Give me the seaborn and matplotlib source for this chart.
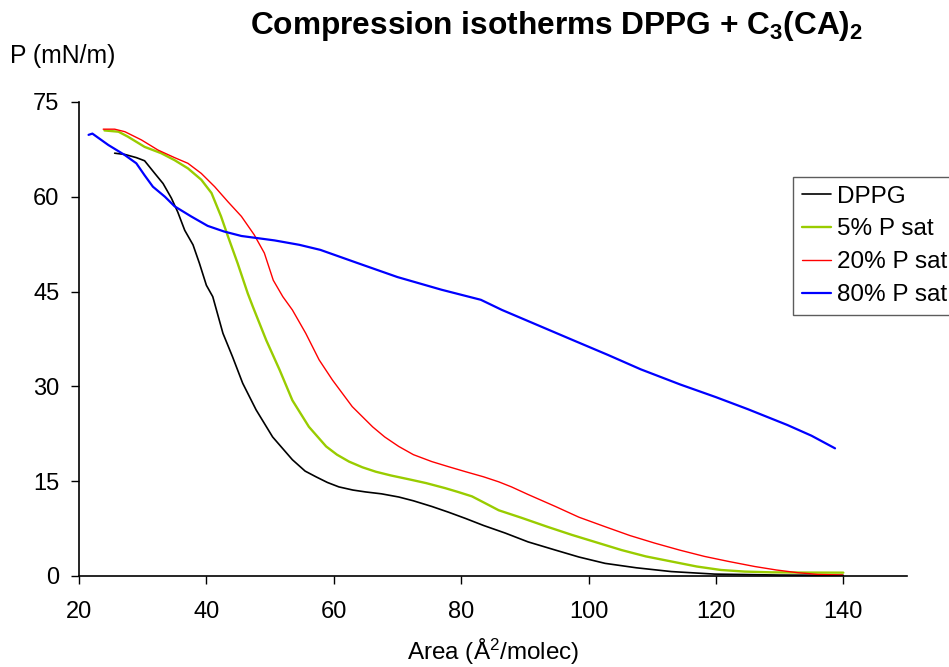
import matplotlib
matplotlib.use("Agg")
import matplotlib.pyplot as plt
import seaborn as sns
import pandas as pd

sns.set_theme(style="white")
plt.rcParams["font.family"] = ["Liberation Sans", "DejaVu Sans"]
plt.rcParams["mathtext.default"] = "regular"
plt.rcParams["text.color"] = "black"

# Surface pressure (mN/m) versus area per molecule (Å²/molec)
dppg_area = [25.6, 27.2, 29.0, 30.3, 31.9, 33.2, 34.5, 35.5, 36.6, 37.9, 38.9, 40.0,
             41.0, 42.6, 44.1, 45.7, 47.8, 50.4, 53.5, 55.5, 57.2, 59.0, 60.8, 63.0,
             65.0, 67.5, 70.2, 72.5, 75.4, 78.0, 80.7, 83.5, 86.9, 90.5, 94.8, 98.5,
             102.6, 107.5, 113.0, 119.8, 130.0, 140.0]
dppg_p = [66.9, 66.7, 66.2, 65.7, 63.7, 62.1, 59.8, 57.6, 54.7, 52.4, 49.5, 46.0,
          44.2, 38.4, 34.7, 30.5, 26.3, 22.0, 18.4, 16.6, 15.7, 14.8, 14.1, 13.6,
          13.3, 13.0, 12.5, 11.9, 11.0, 10.1, 9.1, 8.0, 6.8, 5.4, 4.1, 3.0,
          2.0, 1.3, 0.7, 0.3, 0.15, 0.1]

p5_area = [24.0, 26.2, 27.7, 30.3, 32.9, 35.0, 37.1, 39.2, 40.8, 42.3, 43.4, 44.9,
           46.5, 47.3, 49.4, 51.5, 53.5, 56.1, 58.8, 60.5, 62.4, 64.5, 66.6, 69.0,
           71.8, 74.5, 77.5, 79.5, 81.7, 84.0, 85.9, 89.5, 93.5, 97.4, 101.3, 105.2,
           109.0, 113.0, 117.0, 120.8, 124.5, 128.7, 134.0, 140.0]
p5_p = [70.5, 70.3, 69.5, 67.9, 66.9, 65.8, 64.5, 62.7, 60.6, 56.9, 53.7, 49.5,
        44.7, 42.6, 37.3, 32.6, 27.8, 23.6, 20.5, 19.2, 18.1, 17.2, 16.5, 15.9,
        15.3, 14.7, 13.9, 13.3, 12.6, 11.4, 10.4, 9.2, 7.8, 6.5, 5.3, 4.1,
        3.1, 2.3, 1.5, 0.95, 0.7, 0.58, 0.54, 0.53]

p20_area = [23.8, 25.6, 27.2, 29.8, 32.4, 35.0, 37.1, 39.2, 41.3, 43.4, 45.5, 47.5,
            49.1, 50.5, 52.0, 53.5, 55.6, 57.7, 59.8, 62.9, 66.1, 68.0, 70.2, 72.5,
            75.4, 78.0, 80.7, 83.5, 85.9, 87.9, 90.5, 94.8, 98.5, 102.6, 106.5,
            110.4, 114.3, 118.2, 122.0, 126.1, 129.5, 132.8, 136.0, 139.9]
p20_p = [70.7, 70.7, 70.3, 69.0, 67.4, 66.2, 65.3, 63.7, 61.6, 59.2, 56.9, 54.0,
         51.1, 46.8, 44.2, 42.1, 38.4, 34.2, 31.0, 26.8, 23.6, 22.0, 20.5, 19.2,
         18.1, 17.3, 16.5, 15.7, 14.9, 14.1, 12.9, 11.0, 9.3, 7.8, 6.4,
         5.2, 4.1, 3.1, 2.3, 1.5, 0.95, 0.53, 0.25, 0.16]

p80_area = [21.5, 22.1, 24.6, 27.2, 29.0, 30.3, 31.6, 33.5, 35.0, 37.6, 40.2, 42.8,
            45.5, 50.7, 54.6, 57.9, 63.5, 70.0, 76.9, 83.1, 86.4, 92.0, 97.6, 103.0,
            108.2, 114.4, 120.0, 125.0, 131.2, 135.0, 138.7]
p80_p = [69.8, 70.0, 68.2, 66.6, 65.3, 63.4, 61.6, 60.0, 58.5, 56.9, 55.4, 54.5,
         53.8, 53.1, 52.4, 51.6, 49.6, 47.3, 45.3, 43.7, 42.1, 39.7, 37.3, 35.0,
         32.7, 30.3, 28.3, 26.4, 23.9, 22.2, 20.2]

series_names = ["DPPG", "5% P sat", "20% P sat", "80% P sat"]
series_colors = ["#000000", "#99CC00", "#FF0000", "#0000FF"]
series_widths = [1.2, 1.7, 1.0, 1.6]

x_ticks = [20, 40, 60, 80, 100, 120, 140]
y_ticks = [0, 15, 30, 45, 60, 75]

frames = []
for name, xs, ys in zip(series_names,
                        [dppg_area, p5_area, p20_area, p80_area],
                        [dppg_p, p5_p, p20_p, p80_p]):
    frames.append(pd.DataFrame({"area": xs, "pressure": ys, "sample": name}))
df = pd.concat(frames, ignore_index=True)

fig = plt.figure(figsize=(9.49, 6.67), dpi=100)
ax = fig.add_axes([79 / 949, 1 - 576 / 667, (907 - 79) / 949, (576 - 102) / 667])

for name, color, lw in zip(series_names, series_colors, series_widths):
    sub = df[df["sample"] == name]
    sns.lineplot(data=sub, x="area", y="pressure", color=color, linewidth=lw,
                 sort=False, estimator=None, ax=ax, label=name)

ax.set_xlim(20, 150)
ax.set_ylim(0, 75)
ax.set_xticks(x_ticks)
ax.set_yticks(y_ticks)
ax.set_xlabel("")
ax.set_ylabel("")
for side in ["top", "right"]:
    ax.spines[side].set_visible(False)
for side in ["left", "bottom"]:
    ax.spines[side].set_color("black")
    ax.spines[side].set_linewidth(1.2)
ax.tick_params(axis="both", direction="out", length=6, width=1.0, color="black",
               labelsize=17, labelcolor="black", bottom=True, left=True)
ax.tick_params(axis="x", pad=12)
ax.tick_params(axis="y", pad=8)
ax.grid(False)

h, l = ax.get_legend_handles_labels()
leg = ax.legend(h, l, loc="upper left", bbox_to_anchor=(793 / 949, 1 - 177 / 667),
                bbox_transform=fig.transFigure, frameon=True, fancybox=False,
                fontsize=17.5, handlelength=1.2, handletextpad=0.25, borderpad=0.35,
                labelspacing=0.45, borderaxespad=0)
leg.get_frame().set_edgecolor("#333333")
leg.get_frame().set_linewidth(1.0)
for t in leg.get_texts():
    t.set_color("black")

fig.text(557 / 949, 1 - 26 / 667, "Compression isotherms DPPG + C$_3$(CA)$_2$",
         ha="center", va="center", fontsize=22.8, fontweight="bold")
fig.text(10 / 949, 1 - 56 / 667, "P (mN/m)", ha="left", va="center", fontsize=17.8)
fig.text(493 / 949, 1 - 652 / 667, "Area (Å$^2$/molec)", ha="center", va="center",
         fontsize=17.5)

fig.savefig("out.png", dpi=100)
